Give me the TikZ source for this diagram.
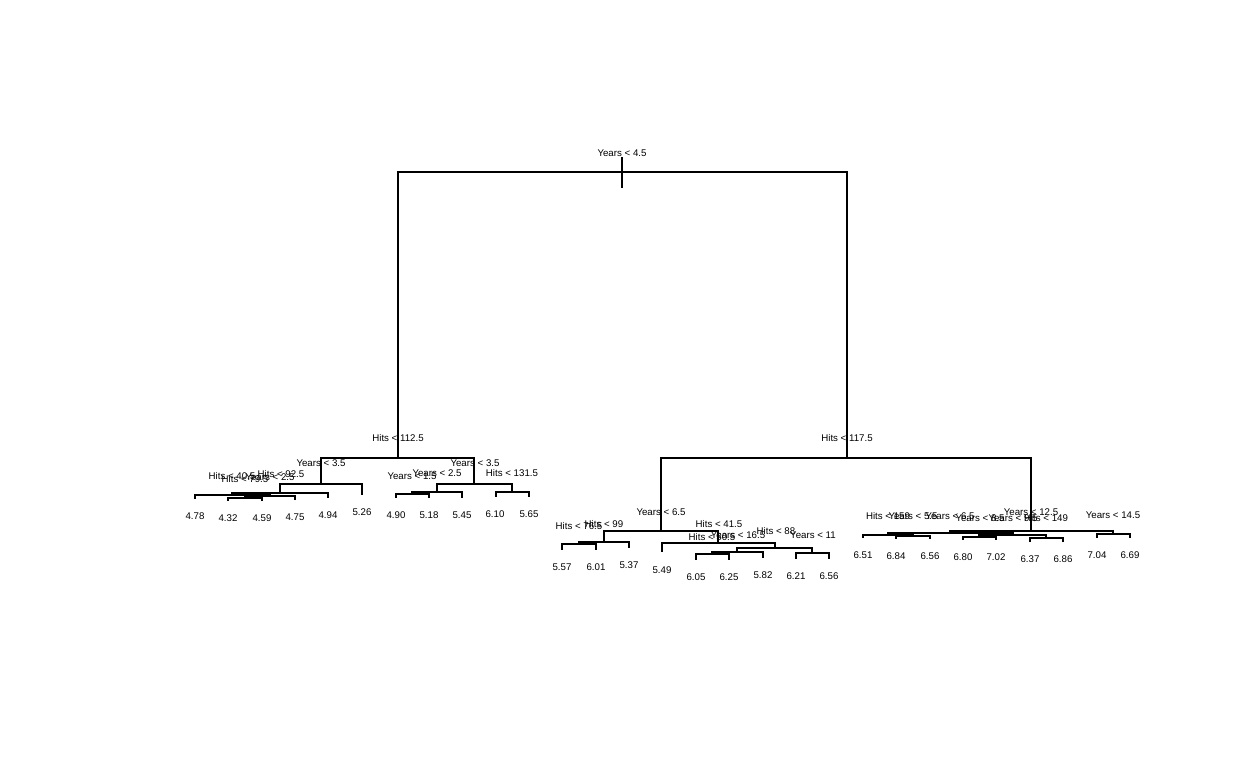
\documentclass[tikz,border=0pt]{standalone}
\usepackage{fontspec}
\setmainfont{Liberation Sans}
\begin{document}
\begin{tikzpicture}[x=1pt,y=-1pt]
\tikzset{
  edge/.style={line width=2pt, line cap=rect},
  lbl/.style={font=\fontsize{9.7}{11}\selectfont, inner sep=0pt, anchor=center},
}
\useasboundingbox (0,0) rectangle (1248,768);
% ---------- tree nodes (split points and leaf ends) ----------
\coordinate (r) at (622,172);
\coordinate (a) at (398,458);
\coordinate (b) at (847,458);
% left subtree
\coordinate (a1) at (321,484);
\coordinate (a2) at (474,484);
\coordinate (a11) at (280,493);
\coordinate (L6) at (362,494);
\coordinate (a111) at (232,495);
\coordinate (L5) at (328,497);
\coordinate (L1) at (195,498);
\coordinate (a1112) at (270,496);
\coordinate (a11121) at (245,498);
\coordinate (L4) at (295,499);
\coordinate (L2) at (228,500);
\coordinate (L3) at (262,500);
\coordinate (a21) at (437,492);
\coordinate (a22) at (512,492);
\coordinate (a211) at (412,494);
\coordinate (L9) at (462,497);
\coordinate (L7) at (396,497);
\coordinate (L8) at (429,497);
\coordinate (L10) at (496,496);
\coordinate (L11) at (529,496);
% right subtree
\coordinate (b1) at (661,531);
\coordinate (b2) at (1031,531);
\coordinate (b11) at (604,542);
\coordinate (b12) at (718,543);
\coordinate (b111) at (579,544);
\coordinate (R3) at (629,547);
\coordinate (R1) at (562,549);
\coordinate (R2) at (596,549);
\coordinate (R4) at (662,551);
\coordinate (b122) at (775,548);
\coordinate (b1221) at (737,552);
\coordinate (b1222) at (812,553);
\coordinate (b12211) at (712,554);
\coordinate (R7) at (763,557);
\coordinate (R5) at (696,559);
\coordinate (R6) at (729,559);
\coordinate (R8) at (796,558);
\coordinate (R9) at (829,558);
\coordinate (b21) at (950,533);
\coordinate (b22) at (1113,534);
\coordinate (b211) at (888,535);
\coordinate (b212) at (1013,535);
\coordinate (R10) at (863,537);
\coordinate (b2112) at (913,536);
\coordinate (R11) at (896,538);
\coordinate (R12) at (930,538);
\coordinate (b2121) at (979,537);
\coordinate (b2122) at (1046,538);
\coordinate (R13) at (963,539);
\coordinate (R14) at (996,539);
\coordinate (R15) at (1030,541);
\coordinate (R16) at (1063,541);
\coordinate (R17) at (1097,537);
\coordinate (R18) at (1130,537);
% root marker
\coordinate (rtop) at (622,158);
\coordinate (rbot) at (622,187);
\draw[edge] (rtop) -- (rbot);
% ---------- connectors ----------
\foreach \p/\c in {r/a,r/b,a/a1,a/a2,a1/a11,a1/L6,a11/a111,a11/L5,a111/L1,a111/a1112,
  a1112/a11121,a1112/L4,a11121/L2,a11121/L3,a2/a21,a2/a22,a21/a211,a21/L9,a211/L7,a211/L8,
  a22/L10,a22/L11,b/b1,b/b2,b1/b11,b1/b12,b11/b111,b11/R3,b111/R1,b111/R2,b12/R4,b12/b122,
  b122/b1221,b122/b1222,b1221/b12211,b1221/R7,b12211/R5,b12211/R6,b1222/R8,b1222/R9,
  b2/b21,b2/b22,b21/b211,b21/b212,b211/R10,b211/b2112,b2112/R11,b2112/R12,
  b212/b2121,b212/b2122,b2121/R13,b2121/R14,b2122/R15,b2122/R16,b22/R17,b22/R18}
  \draw[edge] (\p) -| (\c);
% ---------- split labels ----------
\node[lbl] (tr) at (622,153) {Years < 4.5};
\node[lbl] (ta) at (398,438) {Hits < 112.5};
\node[lbl] (tb) at (847,438) {Hits < 117.5};
\node[lbl] (ta1) at (321,463) {Years < 3.5};
\node[lbl] (ta2) at (475,463) {Years < 3.5};
\node[lbl] (ta11) at (281,474) {Hits < 92.5};
\node[lbl] (ta111) at (232,476) {Hits < 40.5};
\node[lbl] (ta1112) at (270,477) {Years < 2.5};
\node[lbl] (ta11121) at (245,479) {Hits < 79.5};
\node[lbl] (ta21) at (437,473) {Years < 2.5};
\node[lbl] (ta22) at (512,473) {Hits < 131.5};
\node[lbl] (ta211) at (412,476) {Years < 1.5};
\node[lbl] (tb1) at (661,512) {Years < 6.5};
\node[lbl] (tb2) at (1031,512) {Years < 12.5};
\node[lbl] (tb11) at (604,524) {Hits < 99};
\node[lbl] (tb12) at (719,524) {Hits < 41.5};
\node[lbl] (tb111) at (579,526) {Hits < 76.5};
\node[lbl] (tb122) at (776,531) {Hits < 88};
\node[lbl] (tb1221) at (738,535) {Years < 16.5};
\node[lbl] (tb1222) at (813,535) {Years < 11};
\node[lbl] (tb12211) at (712,537) {Hits < 50.5};
\node[lbl] (tb21) at (950,516) {Years < 6.5};
\node[lbl] (tb22) at (1113,515) {Years < 14.5};
\node[lbl] (tb211) at (888,516) {Hits < 159};
\node[lbl] (tb2112) at (913,516) {Years < 5.5};
\node[lbl] (tb212) at (1013,518) {Years < 9.5};
\node[lbl] (tb2121) at (980,518) {Years < 8.5};
\node[lbl] (tb2122) at (1046,518) {Hits < 149};
% ---------- leaf values ----------
\node[lbl] (vL1) at (195,516) {4.78};
\node[lbl] (vL2) at (228,518) {4.32};
\node[lbl] (vL3) at (262,518) {4.59};
\node[lbl] (vL4) at (295,517) {4.75};
\node[lbl] (vL5) at (328,515) {4.94};
\node[lbl] (vL6) at (362,512) {5.26};
\node[lbl] (vL7) at (396,515) {4.90};
\node[lbl] (vL8) at (429,515) {5.18};
\node[lbl] (vL9) at (462,515) {5.45};
\node[lbl] (vL10) at (495,514) {6.10};
\node[lbl] (vL11) at (529,514) {5.65};
\node[lbl] (vR1) at (562,567) {5.57};
\node[lbl] (vR2) at (596,567) {6.01};
\node[lbl] (vR3) at (629,565) {5.37};
\node[lbl] (vR4) at (662,570) {5.49};
\node[lbl] (vR5) at (696,577) {6.05};
\node[lbl] (vR6) at (729,577) {6.25};
\node[lbl] (vR7) at (763,575) {5.82};
\node[lbl] (vR8) at (796,576) {6.21};
\node[lbl] (vR9) at (829,576) {6.56};
\node[lbl] (vR10) at (863,555) {6.51};
\node[lbl] (vR11) at (896,556) {6.84};
\node[lbl] (vR12) at (930,556) {6.56};
\node[lbl] (vR13) at (963,557) {6.80};
\node[lbl] (vR14) at (996,557) {7.02};
\node[lbl] (vR15) at (1030,559) {6.37};
\node[lbl] (vR16) at (1063,559) {6.86};
\node[lbl] (vR17) at (1097,555) {7.04};
\node[lbl] (vR18) at (1130,555) {6.69};
\end{tikzpicture}
\end{document}
